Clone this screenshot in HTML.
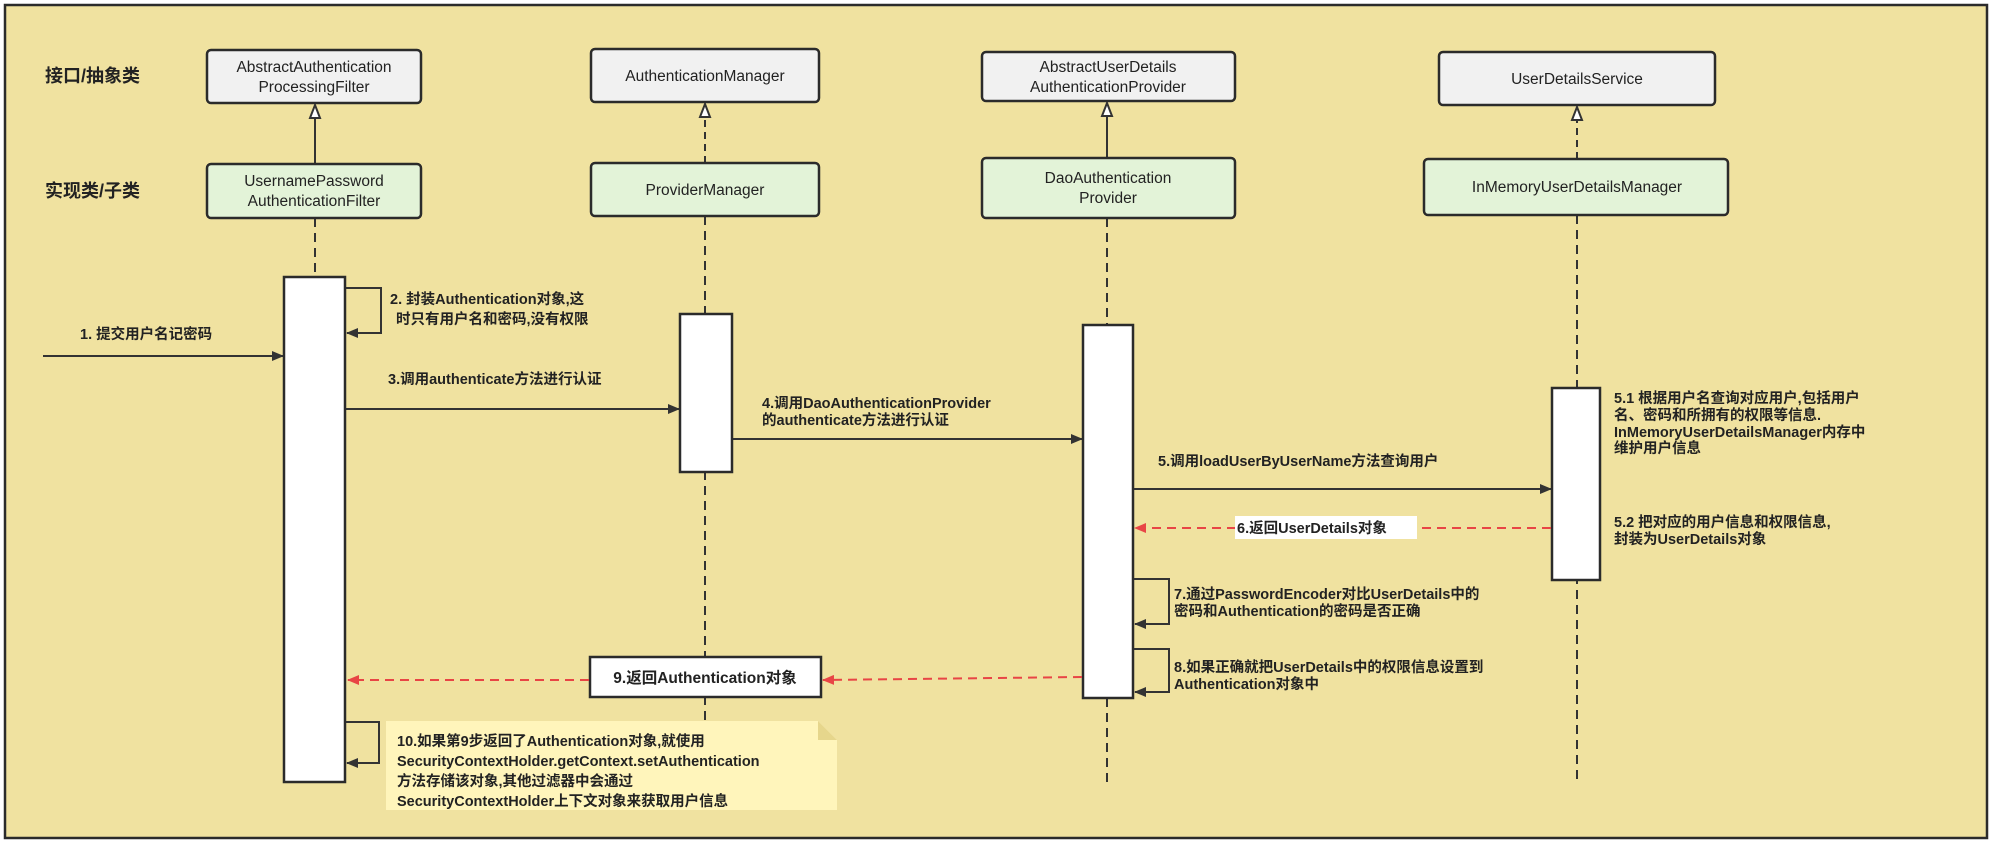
<!DOCTYPE html>
<html><head><meta charset="utf-8"><style>
html,body{margin:0;padding:0;background:#fff;width:1994px;height:843px;overflow:hidden}
svg text{font-family:"Liberation Sans","Noto Sans CJK SC",sans-serif;fill:#222}
.bx{font-size:15.5px}
.lb{font-size:14.5px;font-weight:bold}
</style></head><body>
<svg width="1994" height="843" xmlns="http://www.w3.org/2000/svg">
<defs>
<marker id="a" markerWidth="12" markerHeight="10" refX="11" refY="5" orient="auto" markerUnits="userSpaceOnUse"><path d="M0,0 L12,5 L0,10 Z" fill="#333"/></marker>
<marker id="r" markerWidth="12" markerHeight="10" refX="11" refY="5" orient="auto" markerUnits="userSpaceOnUse"><path d="M0,0 L12,5 L0,10 Z" fill="#e84545"/></marker>
</defs>
<rect x="5" y="5" width="1982" height="833" fill="#f0e2a0" stroke="#2b2b2b" stroke-width="2.5"/>
<text x="45" y="82" style="font-size:18px;font-weight:bold">接口/抽象类</text>
<text x="45" y="197" style="font-size:18px;font-weight:bold">实现类/子类</text>

<!-- inheritance -->
<line x1="315" y1="164" x2="315" y2="118" stroke="#333" stroke-width="2"/>
<polygon points="315,105 320,118 310,118" fill="#fff" stroke="#333" stroke-width="2"/>
<line x1="705" y1="163" x2="705" y2="117" stroke="#333" stroke-width="2" stroke-dasharray="7,5"/>
<polygon points="705,104 710,117 700,117" fill="#fff" stroke="#333" stroke-width="2"/>
<line x1="1107" y1="158" x2="1107" y2="116" stroke="#333" stroke-width="2"/>
<polygon points="1107,103 1112,116 1102,116" fill="#fff" stroke="#333" stroke-width="2"/>
<line x1="1577" y1="159" x2="1577" y2="120" stroke="#333" stroke-width="2" stroke-dasharray="7,5"/>
<polygon points="1577,107 1582,120 1572,120" fill="#fff" stroke="#333" stroke-width="2"/>

<!-- lifelines -->
<g stroke="#333" stroke-width="2" stroke-dasharray="9,6">
<line x1="315" y1="218" x2="315" y2="277"/>
<line x1="705" y1="216" x2="705" y2="782"/>
<line x1="1107" y1="218" x2="1107" y2="782"/>
<line x1="1577" y1="215" x2="1577" y2="782"/>
</g>

<!-- boxes -->
<g stroke="#2b2b2b" stroke-width="2.5">
<rect x="207" y="50" width="214" height="53" rx="4" fill="#f1f1f1"/>
<rect x="207" y="164" width="214" height="54" rx="4" fill="#e3f3d8"/>
<rect x="591" y="49" width="228" height="53" rx="4" fill="#f1f1f1"/>
<rect x="591" y="163" width="228" height="53" rx="4" fill="#e3f3d8"/>
<rect x="982" y="52" width="253" height="49" rx="4" fill="#f1f1f1"/>
<rect x="982" y="158" width="253" height="60" rx="4" fill="#e3f3d8"/>
<rect x="1439" y="52" width="276" height="53" rx="4" fill="#f1f1f1"/>
<rect x="1424" y="159" width="304" height="56" rx="4" fill="#e3f3d8"/>
</g>
<g class="bx" text-anchor="middle">
<text x="314" y="72">AbstractAuthentication</text><text x="314" y="92">ProcessingFilter</text>
<text x="314" y="186">UsernamePassword</text><text x="314" y="206">AuthenticationFilter</text>
<text x="705" y="81">AuthenticationManager</text>
<text x="705" y="195">ProviderManager</text>
<text x="1108" y="72">AbstractUserDetails</text><text x="1108" y="92">AuthenticationProvider</text>
<text x="1108" y="183">DaoAuthentication</text><text x="1108" y="203">Provider</text>
<text x="1577" y="84">UserDetailsService</text>
<text x="1577" y="192">InMemoryUserDetailsManager</text>
</g>

<!-- activation bars -->
<g stroke="#2b2b2b" stroke-width="2.5" fill="#fff">
<rect x="284" y="277" width="61" height="505"/>
<rect x="680" y="314" width="52" height="158"/>
<rect x="1083" y="325" width="50" height="373"/>
<rect x="1552" y="388" width="48" height="192"/>
</g>

<!-- message 9 box -->
<rect x="590" y="657" width="231" height="40" fill="#fff" stroke="#2b2b2b" stroke-width="2.5"/>
<text x="705" y="683" class="bx" text-anchor="middle" style="font-weight:bold">9.返回Authentication对象</text>

<!-- arrows -->
<g stroke="#333" stroke-width="2" fill="none">
<line x1="43" y1="356" x2="283" y2="356" marker-end="url(#a)"/>
<polyline points="346,288 381,288 381,333 347,333" marker-end="url(#a)"/>
<line x1="346" y1="409" x2="679" y2="409" marker-end="url(#a)"/>
<line x1="733" y1="439" x2="1082" y2="439" marker-end="url(#a)"/>
<line x1="1134" y1="489" x2="1551" y2="489" marker-end="url(#a)"/>
<polyline points="1134,579 1169,579 1169,624 1135,624" marker-end="url(#a)"/>
<polyline points="1134,649 1169,649 1169,692 1135,692" marker-end="url(#a)"/>
<polyline points="346,722 379,722 379,763 347,763" marker-end="url(#a)"/>
</g>
<g stroke="#e84545" stroke-width="2" stroke-dasharray="9,6" fill="none">
<line x1="1551" y1="528" x2="1135" y2="528" marker-end="url(#r)"/>
<line x1="1082" y1="677" x2="823" y2="680" marker-end="url(#r)"/>
<line x1="589" y1="680" x2="348" y2="680" marker-end="url(#r)"/>
</g>

<!-- note 10 -->
<path d="M386,721 L818,721 L837,740 L837,810 L386,810 Z" fill="#fff5bb"/>
<path d="M818,721 L818,740 L837,740 Z" fill="#e6d68c"/>

<!-- labels -->
<g class="lb">
<text x="80" y="339">1. 提交用户名记密码</text>
<text x="390" y="304">2. 封装Authentication对象,这</text>
<text x="396" y="324">时只有用户名和密码,没有权限</text>
<text x="388" y="384">3.调用authenticate方法进行认证</text>
<text x="762" y="408">4.调用DaoAuthenticationProvider</text>
<text x="762" y="425">的authenticate方法进行认证</text>
<text x="1158" y="466">5.调用loadUserByUserName方法查询用户</text>
<rect x="1235" y="516" width="182" height="23" fill="#fff" stroke="none"/>
<text x="1237" y="533">6.返回UserDetails对象</text>
<text x="1174" y="599">7.通过PasswordEncoder对比UserDetails中的</text>
<text x="1174" y="616">密码和Authentication的密码是否正确</text>
<text x="1174" y="672">8.如果正确就把UserDetails中的权限信息设置到</text>
<text x="1174" y="689">Authentication对象中</text>
<text x="1614" y="403">5.1 根据用户名查询对应用户,包括用户</text>
<text x="1614" y="420">名、密码和所拥有的权限等信息.</text>
<text x="1614" y="437">InMemoryUserDetailsManager内存中</text>
<text x="1614" y="453">维护用户信息</text>
<text x="1614" y="527">5.2 把对应的用户信息和权限信息,</text>
<text x="1614" y="544">封装为UserDetails对象</text>
<text x="397" y="746">10.如果第9步返回了Authentication对象,就使用</text>
<text x="397" y="766">SecurityContextHolder.getContext.setAuthentication</text>
<text x="397" y="786">方法存储该对象,其他过滤器中会通过</text>
<text x="397" y="806">SecurityContextHolder上下文对象来获取用户信息</text>
</g>
</svg>
</body></html>
